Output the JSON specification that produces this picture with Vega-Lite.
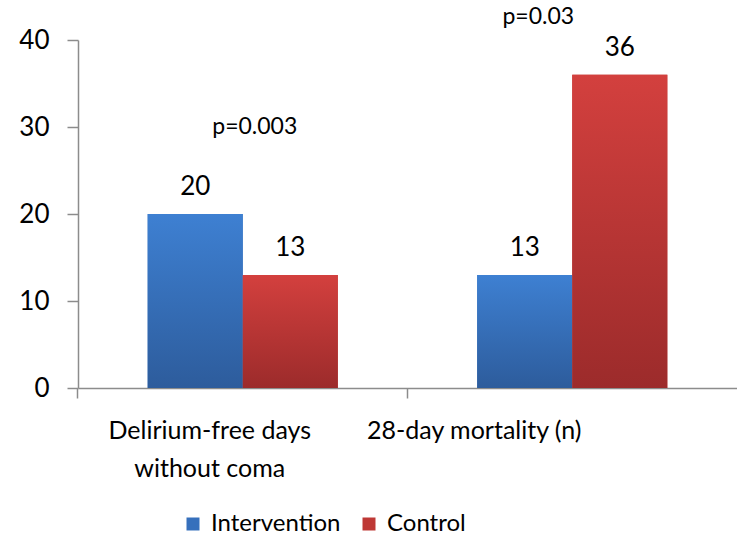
{
  "$schema": "https://vega.github.io/schema/vega-lite/v6.json",
  "autosize": "none",
  "width": 659,
  "height": 348,
  "padding": {"left": 78, "top": 40, "right": 0, "bottom": 151},
  "background": "white",
  "datasets": {
    "bars": [
      {"category": "Delirium-free days without coma", "series": "Intervention", "value": 20},
      {"category": "Delirium-free days without coma", "series": "Control", "value": 13},
      {"category": "28-day mortality (n)", "series": "Intervention", "value": 13},
      {"category": "28-day mortality (n)", "series": "Control", "value": 36}
    ],
    "notes": [
      {"category": "Delirium-free days without coma", "y": 30, "text": "p=0.003"},
      {"category": "28-day mortality (n)", "y": 42.6, "text": "p=0.03"}
    ]
  },
  "encoding": {
    "x": {
      "field": "category",
      "type": "nominal",
      "sort": null,
      "title": null,
      "scale": {"domain": ["Delirium-free days without coma", "28-day mortality (n)"], "paddingInner": 0.423, "paddingOuter": 0.2115},
      "axis": {
        "labelAngle": 0,
        "labelFont": "Lato",
        "labelFontSize": 25,
        "labelColor": "black",
        "labelLimit": 0,
        "labelLineHeight": 38,
        "labelPadding": 20,
        "labelExpr": "datum.value == 'Delirium-free days without coma' ? ['Delirium-free days', 'without coma'] : datum.value",
        "bandPosition": -0.3666,
        "labelOffset": {"condition": {"test": "datum.value == '28-day mortality (n)'", "value": -98}, "value": -33},
        "tickSize": 10,
        "tickColor": "#8c8c8c",
        "domainColor": "#8c8c8c",
        "domainWidth": 1.5,
        "tickWidth": 1.5
      }
    },
    "xOffset": {"field": "series", "type": "nominal", "sort": ["Intervention", "Control"], "scale": {"paddingInner": 0, "paddingOuter": 0}}
  },
  "layer": [
    {
      "data": {"name": "bars"},
      "mark": {"type": "bar"},
      "encoding": {
        "y": {
          "field": "value",
          "type": "quantitative",
          "title": null,
          "scale": {"domain": [0, 40], "nice": false},
          "axis": {
            "values": [0, 10, 20, 30, 40],
            "grid": false,
            "labelFont": "Lato",
            "labelFontSize": 26,
            "labelColor": "black",
            "labelPadding": 18,
            "tickSize": 11,
            "tickColor": "#8c8c8c",
            "tickWidth": 1.5,
            "domainColor": "#8c8c8c",
            "domainWidth": 1.5
          }
        },
        "color": {
          "field": "series",
          "type": "nominal",
          "title": null,
          "sort": ["Intervention", "Control"],
          "scale": {"domain": ["Intervention", "Control"], "range": ["#3670BC", "#BE3835"]},
          "legend": {
            "orient": "none",
            "direction": "horizontal",
            "legendX": 103,
            "legendY": 472,
            "symbolType": "square",
            "symbolSize": 169,
            "symbolStrokeWidth": 0,
            "labelFont": "Lato",
            "labelFontSize": 24,
            "labelColor": "black",
            "labelOffset": 6,
            "columnPadding": 16
          }
        }
      }
    },
    {
      "data": {"name": "bars"},
      "mark": {"type": "bar"},
      "encoding": {
        "y": {"field": "value", "type": "quantitative"},
        "fill": {
          "condition": {
            "test": "datum.series === 'Intervention'",
            "value": {"gradient": "linear", "x1": 0, "y1": 0, "x2": 0, "y2": 1, "stops": [{"offset": 0, "color": "#3E80D2"}, {"offset": 1, "color": "#2D5C9C"}]}
          },
          "value": {"gradient": "linear", "x1": 0, "y1": 0, "x2": 0, "y2": 1, "stops": [{"offset": 0, "color": "#D3403E"}, {"offset": 1, "color": "#9C2B2B"}]}
        }
      }
    },
    {
      "data": {"name": "bars"},
      "mark": {"type": "text", "font": "Lato", "fontSize": 26, "color": "black", "baseline": "middle", "dy": -27},
      "encoding": {
        "y": {"field": "value", "type": "quantitative"},
        "text": {"field": "value", "type": "quantitative"}
      }
    },
    {
      "data": {"name": "notes"},
      "transform": [{"filter": "datum.text == 'p=0.003'"}],
      "mark": {"type": "text", "font": "Lato", "fontSize": 23, "color": "black", "baseline": "middle", "dx": 12, "clip": false},
      "encoding": {
        "xOffset": null,
        "y": {"field": "y", "type": "quantitative"},
        "text": {"field": "text", "type": "nominal"}
      }
    },
    {
      "data": {"name": "notes"},
      "transform": [{"filter": "datum.text == 'p=0.03'"}],
      "mark": {"type": "text", "font": "Lato", "fontSize": 23, "color": "black", "baseline": "middle", "dx": -34, "clip": false},
      "encoding": {
        "xOffset": null,
        "y": {"field": "y", "type": "quantitative"},
        "text": {"field": "text", "type": "nominal"}
      }
    }
  ],
  "config": {"view": {"stroke": null}}
}
